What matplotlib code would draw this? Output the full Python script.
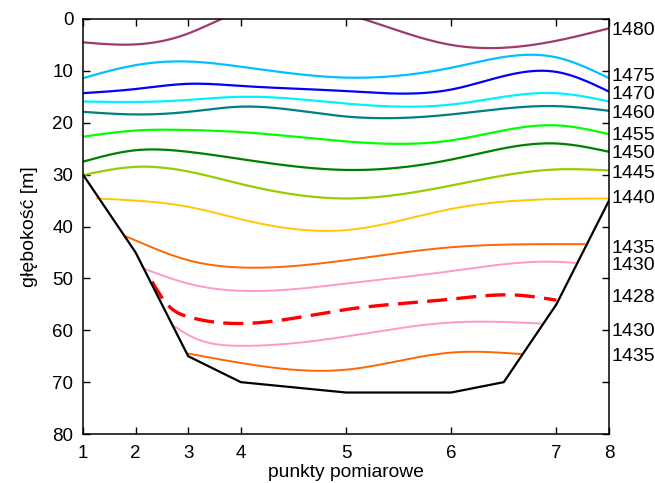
import matplotlib
matplotlib.use("Agg")
import matplotlib.pyplot as plt
import numpy as np

plt.rcParams['font.family'] = ['Liberation Sans', 'DejaVu Sans']

# measurement points: tick positions (distance units) and their labels
point_pos = [0, 1, 2, 3, 5, 7, 9, 10]
point_labels = ['1', '2', '3', '4', '5', '6', '7', '8']

# bottom profile
bottom_x = [0, 1, 2, 3, 5, 7, 8, 9, 10]
bottom_y = [30, 45, 65, 70, 72, 72, 70, 55, 35]

# isolines (speed of sound), x positions and depths
iso_1480_x = [0, 1, 2, 3, 5, 7, 9, 10]
iso_1480_y = [4.5, 4.9, 2.8, -1.5, -1.0, 5.0, 4.2, 1.8]
iso_1475_x = [0, 1, 2, 3, 5, 7, 9, 10]
iso_1475_y = [11.4, 8.9, 8.2, 9.2, 11.3, 9.4, 7.4, 11.4]
iso_1470_x = [0, 1, 2, 3, 5, 7, 9, 10]
iso_1470_y = [14.3, 13.5, 12.5, 12.9, 13.9, 13.6, 10.2, 14.0]
iso_1465_x = [0, 1, 2, 3, 5, 7, 9, 10]
iso_1465_y = [15.9, 16.0, 15.6, 15.0, 16.3, 16.5, 14.3, 15.9]
iso_1460_x = [0, 1, 2, 3, 5, 7, 9, 10]
iso_1460_y = [17.9, 18.4, 17.9, 16.9, 18.8, 18.4, 16.8, 17.7]
iso_1455_x = [0, 1, 2, 3, 5, 7, 9, 10]
iso_1455_y = [22.7, 21.5, 21.4, 21.8, 23.6, 23.4, 20.5, 22.2]
iso_1450_x = [0, 1, 2, 3, 5, 7, 9, 10]
iso_1450_y = [27.5, 25.3, 25.6, 27.0, 29.1, 27.1, 24.0, 25.6]
iso_1445_x = [0, 1, 2, 3, 5, 7, 9, 10]
iso_1445_y = [30.1, 28.5, 29.4, 31.8, 34.6, 32.1, 29.0, 29.2]
iso_1440_x = [0.26, 1, 2, 3, 5, 7, 9, 10]
iso_1440_y = [34.6, 35.0, 36.2, 38.6, 40.7, 36.6, 34.7, 34.6]
iso_1435a_x = [0.79, 1, 2, 3, 5, 7, 9, 9.53]
iso_1435a_y = [41.8, 42.7, 46.5, 47.9, 46.5, 44.0, 43.4, 43.4]
iso_1430a_x = [1.15, 2, 3, 5, 7, 9, 9.35]
iso_1430a_y = [48.1, 51.0, 52.4, 51.0, 48.6, 46.8, 47.0]
iso_1428_x = [1.31, 1.6, 2, 3, 5, 7, 8.2, 9]
iso_1428_y = [50.6, 55.0, 57.4, 58.7, 56.0, 54.0, 53.2, 54.2]
iso_1430b_x = [1.75, 2, 3, 5, 7, 8.7]
iso_1430b_y = [59.3, 60.9, 63.0, 61.2, 58.5, 58.7]
iso_1435b_x = [2, 3, 5, 7, 8.34]
iso_1435b_y = [64.5, 66.3, 67.6, 64.3, 64.6]

label_text = ['1480', '1475', '1470', '1460', '1455', '1450', '1445', '1440',
              '1435', '1430', '1428', '1430', '1435']
label_depth = [2.3, 11.0, 14.6, 18.2, 22.4, 25.9, 29.7, 34.6,
               44.2, 47.6, 53.6, 60.3, 65.1]


def csplines(xs, ys, n=300):
    # natural cubic spline through the points (like gnuplot "smooth csplines")
    x = np.asarray(xs, float)
    y = np.asarray(ys, float)
    k = len(x)
    h = np.diff(x)
    A = np.zeros((k, k))
    r = np.zeros(k)
    A[0, 0] = A[-1, -1] = 1
    for i in range(1, k - 1):
        A[i, i - 1] = h[i - 1]
        A[i, i] = 2 * (h[i - 1] + h[i])
        A[i, i + 1] = h[i]
        r[i] = 6 * ((y[i + 1] - y[i]) / h[i] - (y[i] - y[i - 1]) / h[i - 1])
    m = np.linalg.solve(A, r)
    xx = np.linspace(x[0], x[-1], n)
    j = np.clip(np.searchsorted(x, xx) - 1, 0, k - 2)
    t0 = xx - x[j]
    t1 = x[j + 1] - xx
    hj = h[j]
    yy = (m[j] * t1 ** 3 / (6 * hj) + m[j + 1] * t0 ** 3 / (6 * hj)
          + (y[j] / hj - m[j] * hj / 6) * t1 + (y[j + 1] / hj - m[j + 1] * hj / 6) * t0)
    return xx, yy


fig = plt.figure(figsize=(6.55, 4.83), dpi=100)
ax = fig.add_axes([0.1267, 0.1014, 0.8031, 0.8593])

lines = [
    (iso_1480_x, iso_1480_y, '#9e3a6c', 1.6, '-'),
    (iso_1475_x, iso_1475_y, '#00c0ff', 1.6, '-'),
    (iso_1470_x, iso_1470_y, '#0000ff', 1.6, '-'),
    (iso_1465_x, iso_1465_y, '#00f0ff', 1.6, '-'),
    (iso_1460_x, iso_1460_y, '#008080', 1.6, '-'),
    (iso_1455_x, iso_1455_y, '#00ff00', 1.6, '-'),
    (iso_1450_x, iso_1450_y, '#008000', 1.6, '-'),
    (iso_1445_x, iso_1445_y, '#99cc00', 1.6, '-'),
    (iso_1440_x, iso_1440_y, '#ffc800', 1.4, '-'),
    (iso_1435a_x, iso_1435a_y, '#ff6600', 1.4, '-'),
    (iso_1430a_x, iso_1430a_y, '#ff99cc', 1.4, '-'),
    (iso_1428_x, iso_1428_y, '#ff0000', 2.4, '--'),
    (iso_1430b_x, iso_1430b_y, '#ff99cc', 1.4, '-'),
    (iso_1435b_x, iso_1435b_y, '#ff6600', 1.4, '-'),
]
for xs, ys, col, lw, ls in lines:
    xx, yy = csplines(xs, ys)
    ln, = ax.plot(xx, yy, color=col, lw=lw, ls=ls)
    if ls == '--':
        ln.set_dashes((6, 2.8))

ax.plot(bottom_x, bottom_y, color='black', lw=1.6)

for txt, d in zip(label_text, label_depth):
    ax.text(10.05, d, txt, fontsize=14, va='center', ha='left', clip_on=False)

ax.set_xlim(0, 10)
ax.set_ylim(80, 0)
ax.set_xticks(point_pos)
ax.set_xticklabels(point_labels)
ax.set_yticks(np.arange(0, 81, 10))
ax.tick_params(direction='in', top=True, right=True, length=5, width=1,
               labelsize=13.5)
ax.tick_params(axis='x', pad=8)
ax.tick_params(axis='y', pad=7)
for s in ax.spines.values():
    s.set_linewidth(1.1)

ax.set_xlabel('punkty pomiarowe', fontsize=13.9, labelpad=1)
ax.set_ylabel('głębokość [m]', fontsize=14, labelpad=10)

fig.savefig('out.png', dpi=100)
